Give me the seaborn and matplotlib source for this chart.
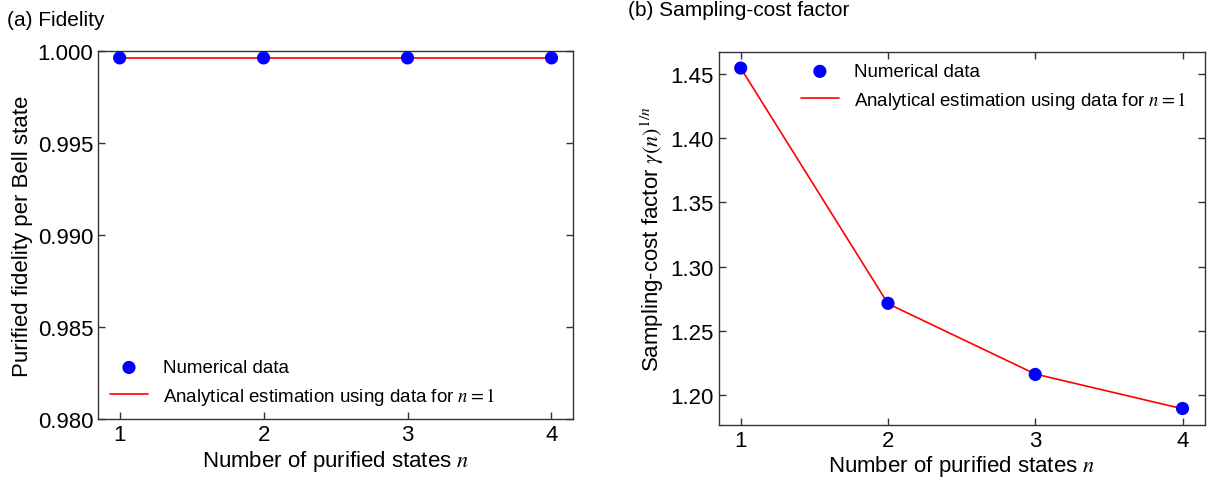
import matplotlib
matplotlib.use("Agg")
import matplotlib.pyplot as plt
import numpy as np
import pandas as pd
import seaborn as sns

# values
n_states = [1, 2, 3, 4]
fidelity_numerical = [0.99962, 0.99962, 0.99962, 0.99962]
fidelity_analytical = [0.99962, 0.99962, 0.99962, 0.99962]
gamma_numerical = [1.4544, 1.2715, 1.2162, 1.1897]
gamma_analytical = [1.4544, 1.2712, 1.2165, 1.1895]

x_ticks = [1, 2, 3, 4]
fid_ticks = [0.980, 0.985, 0.990, 0.995, 1.000]
gamma_ticks = [1.20, 1.25, 1.30, 1.35, 1.40, 1.45]

sns.set_theme(style="ticks")
plt.rcParams["font.family"] = ["Liberation Sans", "DejaVu Sans"]
plt.rcParams["mathtext.fontset"] = "stix"
plt.rcParams["axes.edgecolor"] = "#333333"
plt.rcParams["axes.linewidth"] = 1.0
plt.rcParams["axes.labelcolor"] = "black"
plt.rcParams["text.color"] = "black"

fid_df = pd.DataFrame({"n": n_states, "num": fidelity_numerical, "ana": fidelity_analytical})
gam_df = pd.DataFrame({"n": n_states, "num": gamma_numerical, "ana": gamma_analytical})

fig = plt.figure(figsize=(12.18, 4.85), dpi=100)
ax1 = fig.add_axes([0.0805, 0.134, 0.390, 0.759])
ax2 = fig.add_axes([0.590, 0.122, 0.399, 0.769])

legend_label = r"Analytical estimation using data for $n = 1$"


def draw_panel(ax, df):
    sns.scatterplot(data=df, x="n", y="num", ax=ax, color="blue", s=90,
                    edgecolor="none", label="Numerical data", zorder=3)
    sns.lineplot(data=df, x="n", y="ana", ax=ax, color="red", linewidth=1.2,
                 label=legend_label, zorder=2)
    ax.set_xticks(x_ticks)
    ax.set_xlim(0.85, 4.15)
    ax.tick_params(direction="in", top=True, right=True, length=5, width=1,
                   labelsize=16, colors="#333333", labelcolor="black")
    ax.set_xlabel(r"Number of purified states $n$", fontsize=16, labelpad=2)


draw_panel(ax1, fid_df)
ax1.set_ylim(0.980, 1.000)
ax1.set_yticks(fid_ticks)
ax1.set_yticklabels([f"{t:.3f}" for t in fid_ticks])
ax1.set_ylabel("Purified fidelity per Bell state", fontsize=16, labelpad=3)
ax1.legend(loc="lower left", frameon=False, fontsize=13.5, handlelength=2.0,
           handletextpad=0.8, borderaxespad=0.25, labelspacing=0.45)

draw_panel(ax2, gam_df)
ax2.set_ylim(1.177, 1.467)
ax2.set_yticks(gamma_ticks)
ax2.set_yticklabels([f"{t:.2f}" for t in gamma_ticks])
ax2.set_ylabel(r"Sampling-cost factor $\gamma(n)^{1/n}$", fontsize=16, labelpad=3)
ax2.legend(loc="upper left", bbox_to_anchor=(0.135, 1.015), frameon=False,
           fontsize=13.5, handlelength=2.0, handletextpad=0.8, labelspacing=0.45)

fig.text(0.006, 0.957, "(a) Fidelity", fontsize=15, va="center")
fig.text(0.516, 0.978, "(b) Sampling-cost factor", fontsize=15, va="center")

fig.savefig("out.png", dpi=100)
